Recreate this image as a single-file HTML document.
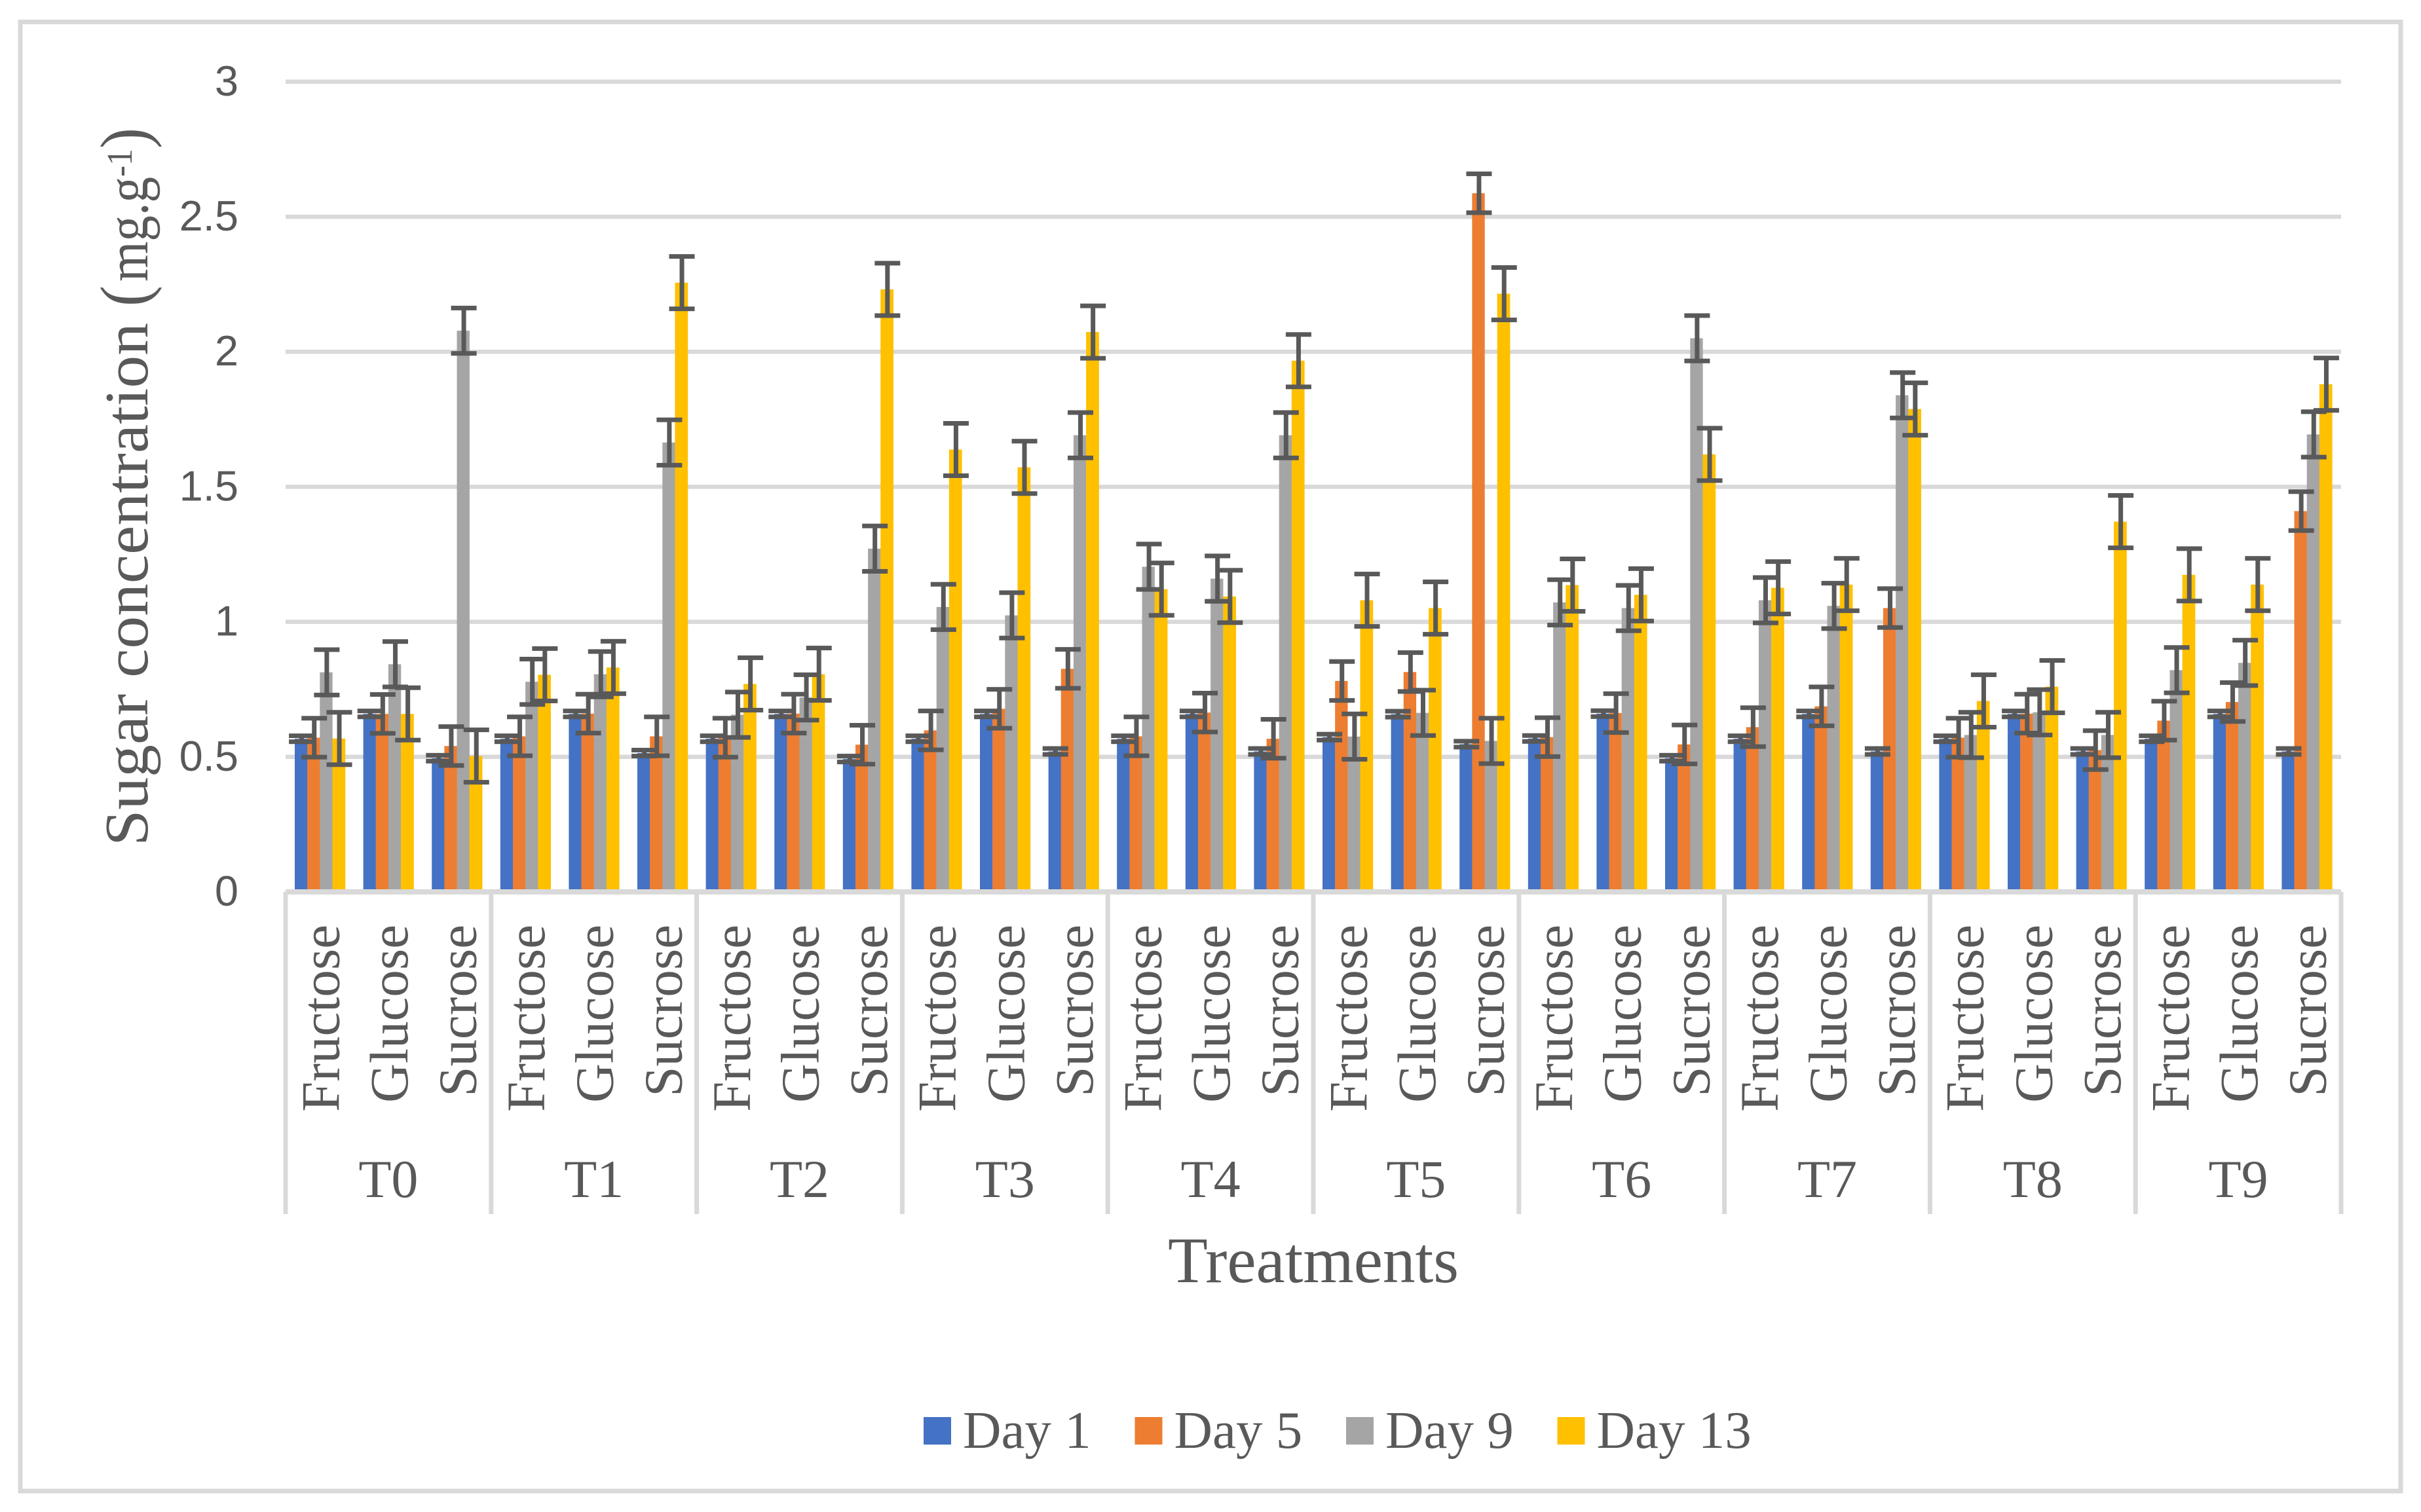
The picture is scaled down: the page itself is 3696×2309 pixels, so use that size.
<!DOCTYPE html>
<html lang="en">
<head>
<meta charset="utf-8">
<title>Sugar concentration by treatment</title>
<style>
html,body{margin:0;padding:0;background:#fff}
svg{display:block}
text{fill:#595959}
.serif{font-family:"Liberation Serif",serif}
.sans{font-family:"Liberation Sans",sans-serif}
</style>
</head>
<body>
<svg id="chart" xmlns="http://www.w3.org/2000/svg" width="3696" height="2309" viewBox="0 0 3696 2309">
  <rect x="0" y="0" width="3696" height="2309" fill="#ffffff"/>
  <rect x="31" y="33.5" width="3634" height="2243.5" fill="none" stroke="#d9d9d9" stroke-width="7"/>
  <g id="grid"></g>
  <g id="bars"></g>
  <g id="axis"></g>
  <g id="errors"></g>
  <g id="yticks"></g>
  <g id="xlabels"></g>
  <g class="serif">
    <text font-size="94" textLength="799" lengthAdjust="spacingAndGlyphs" transform="translate(225 1292) rotate(-90)">Sugar concentration</text>
    <text font-size="104" textLength="32" lengthAdjust="spacingAndGlyphs" transform="translate(225 468) rotate(-90)">(</text>
    <text font-size="90" textLength="160" lengthAdjust="spacingAndGlyphs" transform="translate(225 430) rotate(-90)">mg.g</text>
    <text font-size="55" textLength="43" lengthAdjust="spacingAndGlyphs" transform="translate(201 270) rotate(-90)">-1</text>
    <text font-size="104" textLength="32" lengthAdjust="spacingAndGlyphs" transform="translate(225 227) rotate(-90)">)</text>
  </g>
  <text class="serif" font-size="99.5" x="2005" y="1958" text-anchor="middle">Treatments</text>
  <g id="legend"></g>
</svg>
<script>
const treatments = ['T0','T1','T2','T3','T4','T5','T6','T7','T8','T9'];
const sugars = ['Fructose','Glucose','Sucrose'];
const seriesNames = ['Day 1','Day 5','Day 9','Day 13'];
const seriesColors = ['#4472c4','#ed7d31','#a5a5a5','#ffc000'];
const yTicks = [0,0.5,1,1.5,2,2.5,3];
const yMax = 3;

const day1 = [
  .567,.659,.495, .567,.659,.514, .567,.659,.492, .567,.659,.520, .567,.659,.520,
  .573,.658,.547, .568,.660,.495, .567,.659,.520, .567,.659,.520, .567,.659,.520
];
const day5 = [
  .571,.659,.540, .576,.660,.576, .571,.660,.545, .598,.678,.826, .576,.664,.567,
  .781,.814,2.587, .573,.662,.546, .610,.687,1.051, .571,.660,.525, .634,.703,1.410
];
const day9 = [
  .813,.843,2.078, .778,.806,1.664, .656,.720,1.271, 1.055,1.024,1.691, 1.204,1.160,1.691,
  .575,.663,.559, 1.072,1.051,2.050, 1.080,1.059,1.839, .581,.665,.581, .821,.848,1.694
];
const day13 = [
  .568,.659,.503, .804,.831,2.256, .770,.806,2.231, 1.638,1.572,2.073, 1.121,1.094,1.967,
  1.080,1.051,2.215, 1.136,1.100,1.620, 1.126,1.138,1.788, .707,.760,1.371, 1.174,1.138,1.880
];
const errorDay1 = 0.011;
const errorDay5 = 0.072;
const errorDay9 = 0.084;
const errorDay13 = 0.097;

const allSeries = [day1, day5, day9, day13];
const allErrors = [errorDay1, errorDay5, errorDay9, errorDay13];

const NS = 'http://www.w3.org/2000/svg';
const plotLeft = 436, plotRight = 3574, baseY = 1362, unitPx = 412.4;
const subWidth = (plotRight - plotLeft) / (treatments.length * sugars.length);
const barWidth = 19.15, barInset = 14;

function yScale(v){ return baseY - v * unitPx; }
function catX(i){ return plotLeft + i * subWidth; }
function barX(i, s){ return catX(i) + barInset + s * barWidth; }

function node(tag, parent, props){
  const el = document.createElementNS(NS, tag);
  for (const k in props) el.setAttribute(k, props[k]);
  parent.appendChild(el);
  return el;
}

const grid = document.getElementById('grid');
yTicks.slice(1).forEach(function(t){
  const el = node('rect', grid, {x: plotLeft, y: yScale(t) - 3.25, width: plotRight - plotLeft, height: 6.5, fill: '#d9d9d9'});
  
  
});

const yticksG = document.getElementById('yticks');
yTicks.forEach(function(t){
  const el = node('text', yticksG, {x: 364, y: yScale(t) + 21, 'text-anchor': 'end', 'font-size': 65, 'class': 'sans'});
  el.textContent = String(t);
  
  
});

const barsG = document.getElementById('bars');
allSeries.forEach(function(values, s){
  values.forEach(function(v, i){
    const top = yScale(v);
    const el = node('rect', barsG, {x: barX(i, s), y: top, width: barWidth + (s === 3 ? 0.6 : 0.2), height: baseY - top, fill: seriesColors[s]});
    
    
  });
});

const axisG = document.getElementById('axis');
const axisLine = node('rect', axisG, {x: plotLeft, y: 1358, width: plotRight - plotLeft, height: 8, fill: '#d9d9d9'});


for (let g = 0; g <= treatments.length; g++){
  const sx = plotLeft + g * subWidth * sugars.length;
  const sep = node('rect', axisG, {x: sx - 3.5, y: 1362, width: 7, height: 492, fill: '#d9d9d9'});
  
  
}

const errorsG = document.getElementById('errors');
allSeries.forEach(function(values, s){
  const err = allErrors[s];
  values.forEach(function(v, i){
    const cx = barX(i, s) + barWidth / 2 + 1;
    const yTop = yScale(v + err), yBot = yScale(v - err);
    const g = node('g', errorsG, {fill: '#595959'});
    
    
    node('rect', g, {x: cx - 3.5, y: yTop, width: 7, height: yBot - yTop});
    node('rect', g, {x: cx - 19.5, y: yTop - 3.5, width: 39, height: 7});
    node('rect', g, {x: cx - 19.5, y: yBot - 3.5, width: 39, height: 7});
  });
});

const xl = document.getElementById('xlabels');
treatments.forEach(function(t, g){
  sugars.forEach(function(name, k){
    const idx = g * sugars.length + k;
    const bx = catX(idx) + subWidth / 2 + 29;
    const el = node('text', xl, {transform: 'translate(' + bx + ' 1412) rotate(-90)', 'text-anchor': 'end', 'font-size': 83, 'class': 'serif'});
    el.textContent = name;
    
    
  });
  const gx = catX(g * sugars.length) + subWidth * sugars.length / 2;
  const gl = node('text', xl, {x: gx, y: 1828, 'text-anchor': 'middle', 'font-size': 82, 'class': 'serif'});
  gl.textContent = t;
  
  
});

const legendSwatchX = [1410, 1732.5, 2055, 2377.5];
const legendG = document.getElementById('legend');
seriesNames.forEach(function(name, s){
  const sw = node('rect', legendG, {x: legendSwatchX[s], y: 2164, width: 42, height: 42, fill: seriesColors[s]});
  
  
  const tx = node('text', legendG, {x: legendSwatchX[s] + 60, y: 2211, 'font-size': 81, 'class': 'serif'});
  tx.textContent = name;
  
  
});
</script>
</body>
</html>
